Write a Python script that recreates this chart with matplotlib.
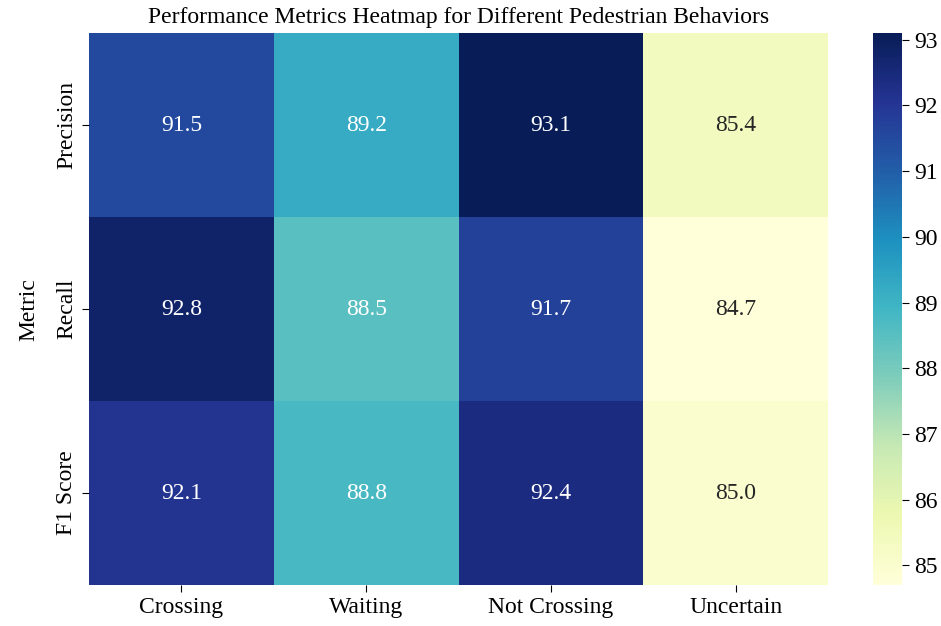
import matplotlib
matplotlib.use("Agg")
import matplotlib.pyplot as plt
import numpy as np
import pandas as pd
import seaborn as sns

# metric values per pedestrian behavior
behaviors = ["Crossing", "Waiting", "Not Crossing", "Uncertain"]
metrics = ["Precision", "Recall", "F1 Score"]
precision = [91.5, 89.2, 93.1, 85.4]
recall = [92.8, 88.5, 91.7, 84.7]
f1_score = [92.1, 88.8, 92.4, 85.0]

df = pd.DataFrame([precision, recall, f1_score], index=metrics, columns=behaviors)

plt.rcParams["font.family"] = ["Liberation Serif", "DejaVu Serif"]

fig = plt.figure(figsize=(9.41, 6.26), dpi=100)
ax = fig.add_axes([0.0946, 0.0655, 0.7854, 0.8815])
cax = fig.add_axes([0.928, 0.0655, 0.031, 0.8815])

sns.heatmap(df, annot=True, fmt=".1f", cmap="YlGnBu", ax=ax, cbar_ax=cax,
            annot_kws={"fontsize": 17})

# light cells get dark text, the rest white
for txt in ax.texts:
    val = float(txt.get_text())
    txt.set_color("#262626" if val < 87 else "white")

ax.set_title("Performance Metrics Heatmap for Different Pedestrian Behaviors",
             fontsize=17, pad=7)
ax.set_ylabel("Metric", fontsize=17, labelpad=12)
ax.set_xlabel("")
ax.tick_params(axis="both", labelsize=17, length=5)
plt.setp(ax.get_yticklabels(), rotation=90, va="center")
plt.setp(ax.get_xticklabels(), rotation=0)
cax.tick_params(labelsize=17, length=5)

fig.savefig("out.png", dpi=100)
